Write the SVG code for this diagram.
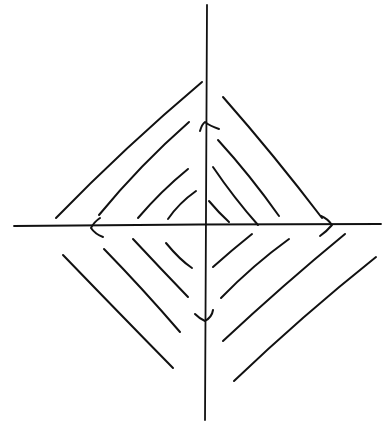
<svg xmlns="http://www.w3.org/2000/svg" width="384" height="428" viewBox="0 0 384 428">
<style>
.s{fill:none;stroke:#111;stroke-width:2;stroke-linecap:round;stroke-linejoin:round}
.a{fill:none;stroke:#111;stroke-width:1.8;stroke-linecap:round}
</style>
<rect width="384" height="428" fill="#fff"/>
<g id="axes">
<path class="a" d="M207,5 Q206,200 205,420"/>
<path class="a" d="M14,226 Q200,224 381,224"/>
</g>
<g id="arrows">
<path class="s" d="M200,131 Q202,124 205,122 Q210,126 219,129"/>
<path class="s" d="M100,218 Q94,222 91,228 Q95,234 103,237"/>
<path class="s" d="M195,314 Q200,319 205,321 Q212,317 213,310"/>
<path class="s" d="M321,216 Q328,219 332,225 Q327,231 320,236"/>
</g>
<g id="quadrant-upper-left">
<path class="s" d="M56,218 Q125,147 202,82"/>
<path class="s" d="M99,215 Q140,165 189,122"/>
<path class="s" d="M138,218 Q161,191 188,169"/>
<path class="s" d="M168,219 Q179,203 196,191"/>
</g>
<g id="quadrant-upper-right">
<path class="s" d="M223,97 Q274,155 322,218"/>
<path class="s" d="M218,140 Q250,175 279,216"/>
<path class="s" d="M213,167 Q234,198 258,225"/>
<path class="s" d="M209,201 Q219,213 229,222"/>
</g>
<g id="quadrant-lower-left">
<path class="s" d="M63,255 Q119,313 173,368"/>
<path class="s" d="M104,249 Q143,289 180,332"/>
<path class="s" d="M133,239 Q161,269 188,297"/>
<path class="s" d="M166,243 Q180,260 192,268"/>
</g>
<g id="quadrant-lower-right">
<path class="s" d="M213,267 Q232,250 252,234"/>
<path class="s" d="M221,298 Q253,265 289,239"/>
<path class="s" d="M223,341 Q283,285 345,234"/>
<path class="s" d="M234,381 Q302,316 376,257"/>
</g>
</svg>
